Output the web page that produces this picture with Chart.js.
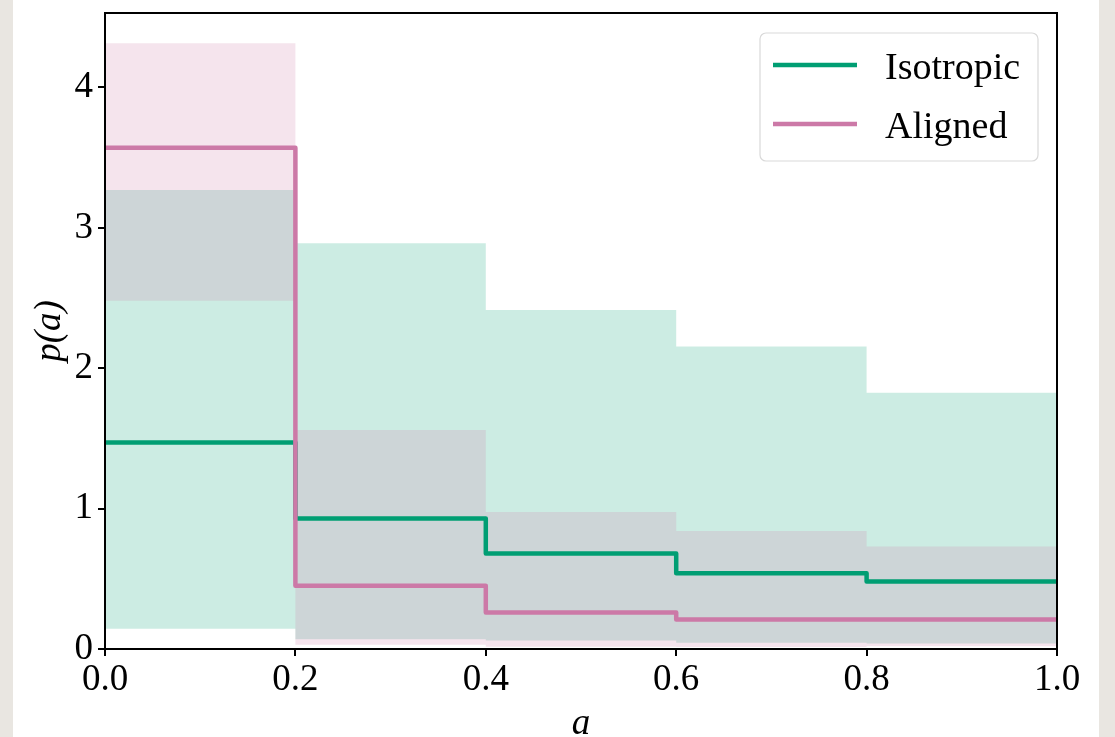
<!DOCTYPE html>
<html>
<head>
<meta charset="utf-8">
<script src="https://cdn.jsdelivr.net/npm/chart.js@4.4.1/dist/chart.umd.min.js"></script>
<style>
  html, body { margin: 0; padding: 0; }
  body { width: 1115px; height: 737px; background: #e9e6e1; overflow: hidden; position: relative; }
  #sheet { position: absolute; left: 13px; top: 0; width: 1086px; height: 737px; background: #fff; }
  #wrap { position: absolute; left: 0; top: 0; width: 1115px; height: 737px; }
</style>
</head>
<body>
<div id="sheet"></div>
<div id="wrap"><canvas id="chart"></canvas></div>
<script>
// bins of spin magnitude a
var binEdges = [0.0, 0.2, 0.4, 0.6, 0.8, 1.0];

// isotropic population: median and 90% band per bin
var isoMedian = [1.47, 0.93, 0.68, 0.54, 0.48];
var isoLower = [0.145, 0.07, 0.06, 0.045, 0.04];
var isoUpper = [3.27, 2.89, 2.415, 2.155, 1.825];

// aligned population
var alignedMedian = [3.57, 0.45, 0.26, 0.21, 0.21];
var alignedLower = [2.48, 0.03, 0.016, 0.015, 0.02];
var alignedUpper = [4.315, 1.56, 0.975, 0.84, 0.73];

var xTicks = [0.0, 0.2, 0.4, 0.6, 0.8, 1.0];
var yTicks = [0, 1, 2, 3, 4];
var yMax = 4.53;

var GREEN = "#009E73";
var PINK = "#CC79A7";
var FONT = "'Liberation Serif', 'Times New Roman', serif";

// turn per-bin values into a step outline (flat across each bin)
function stepPoints(vals) {
  var pts = [];
  for (var i = 0; i < vals.length; i++) {
    pts.push({ x: binEdges[i], y: vals[i] });
    pts.push({ x: binEdges[i + 1], y: vals[i] });
  }
  return pts;
}

function bandEdge(vals, order) {
  return {
    data: stepPoints(vals),
    borderWidth: 0,
    pointRadius: 0,
    fill: false,
    order: order
  };
}

var datasets = [
  {
    label: "Isotropic",
    data: stepPoints(isoMedian),
    borderColor: GREEN,
    borderWidth: 4.5,
    borderJoinStyle: "round",
    pointRadius: 0,
    fill: false,
    order: 1,
    inLegend: true
  },
  {
    label: "Aligned",
    data: stepPoints(alignedMedian),
    borderColor: PINK,
    borderWidth: 4.5,
    borderJoinStyle: "round",
    pointRadius: 0,
    fill: false,
    order: 0,
    inLegend: true
  },
  bandEdge(alignedLower, 2),
  Object.assign(bandEdge(alignedUpper, 2), { fill: 2, backgroundColor: "rgba(204, 121, 167, 0.2)" }),
  bandEdge(isoLower, 3),
  Object.assign(bandEdge(isoUpper, 3), { fill: 4, backgroundColor: "rgba(0, 158, 115, 0.2)" })
];

// black box round the axes, drawn over the data
var framePlugin = {
  id: "frame",
  afterDatasetsDraw: function (chart) {
    var a = chart.chartArea;
    var ctx = chart.ctx;
    ctx.save();
    ctx.strokeStyle = "#000";
    ctx.lineWidth = 2;
    ctx.strokeRect(a.left, a.top, a.right - a.left, a.bottom - a.top);
    ctx.restore();
  }
};

// legend in the upper right corner with a rounded frame
var legendPlugin = {
  id: "boxLegend",
  afterDraw: function (chart) {
    var a = chart.chartArea;
    var ctx = chart.ctx;
    var items = chart.data.datasets.filter(function (d) { return d.inLegend; });
    var w = 278, h = 128;
    var x = a.right - 19 - w;
    var y = a.top + 20;
    ctx.save();
    ctx.beginPath();
    ctx.roundRect(x, y, w, h, 6);
    ctx.fillStyle = "rgba(255,255,255,0.8)";
    ctx.fill();
    ctx.strokeStyle = "#d9d9d9";
    ctx.lineWidth = 1.2;
    ctx.stroke();
    ctx.font = "38px " + FONT;
    ctx.fillStyle = "#000";
    ctx.textBaseline = "alphabetic";
    items.forEach(function (d, i) {
      var rowY = y + 32 + i * 59;
      ctx.beginPath();
      ctx.moveTo(x + 13, rowY);
      ctx.lineTo(x + 97, rowY);
      ctx.strokeStyle = d.borderColor;
      ctx.lineWidth = 4.5;
      ctx.stroke();
      ctx.fillText(d.label, x + 125, rowY + 14);
    });
    ctx.restore();
  }
};

var ctx = document.getElementById("chart").getContext("2d");

new Chart(ctx, {
  type: "line",
  data: { datasets: datasets },
  options: {
    responsive: true,
    maintainAspectRatio: false,
    animation: false,
    layout: { padding: { left: 0, right: 58, top: 13, bottom: 0 } },
    plugins: {
      legend: { display: false },
      tooltip: { enabled: false },
      filler: { propagate: false }
    },
    scales: {
      x: {
        type: "linear",
        min: 0,
        max: 1,
        afterFit: function (scale) {
          scale.height = 88;
          scale.paddingLeft = 0;
          scale.paddingRight = 0;
        },
        afterBuildTicks: function (scale) {
          scale.ticks = xTicks.map(function (v) { return { value: v }; });
        },
        border: { display: false },
        grid: { display: true, drawOnChartArea: false, drawTicks: true, tickLength: 7, color: "#000", lineWidth: 2 },
        ticks: {
          color: "#000",
          padding: 2,
          maxRotation: 0,
          font: { family: FONT, size: 37 },
          callback: function (v) { return Number(v).toFixed(1); }
        },
        title: {
          display: true,
          text: "a",
          color: "#000",
          padding: { top: 0, bottom: -9 },
          font: { family: FONT, size: 37, style: "italic" }
        }
      },
      y: {
        type: "linear",
        min: 0,
        max: yMax,
        afterFit: function (scale) {
          scale.width = 105;
          scale.paddingTop = 0;
          scale.paddingBottom = 0;
        },
        afterBuildTicks: function (scale) {
          scale.ticks = yTicks.map(function (v) { return { value: v }; });
        },
        border: { display: false },
        grid: { display: true, drawOnChartArea: false, drawTicks: true, tickLength: 7, color: "#000", lineWidth: 2 },
        ticks: {
          color: "#000",
          padding: 5,
          font: { family: FONT, size: 37 },
          callback: function (v) { return String(v); }
        },
        title: {
          display: true,
          text: "p(a)",
          color: "#000",
          padding: { top: 28, bottom: 0 },
          font: { family: FONT, size: 37, style: "italic" }
        }
      }
    }
  },
  plugins: [framePlugin, legendPlugin]
});
</script>
</body>
</html>
